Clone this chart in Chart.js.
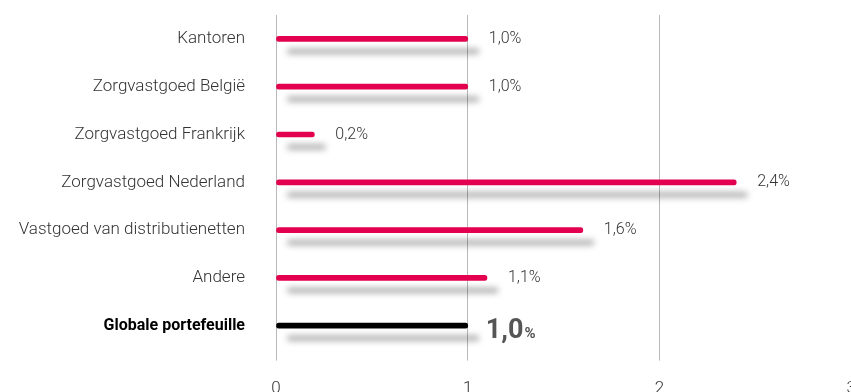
<!DOCTYPE html>
<html>
<head>
<meta charset="utf-8">
<script src="https://cdn.jsdelivr.net/npm/chart.js@4/dist/chart.umd.min.js"></script>
<style>
  html, body { margin: 0; padding: 0; background: #fff; overflow: hidden; }
  canvas { display: block; }
</style>
</head>
<body>
<canvas id="rendementChart" width="874" height="417"></canvas>
<script>
const categories = [
    'Kantoren',
    'Zorgvastgoed België',
    'Zorgvastgoed Frankrijk',
    'Zorgvastgoed Nederland',
    'Vastgoed van distributienetten',
    'Andere',
    'Globale portefeuille'
];
const rendement = [1.0, 1.0, 0.2, 2.4, 1.6, 1.1, 1.0];
const xTicks = [0, 1, 2, 3];

const RED = '#e2004f';
const TOTAL = categories.length - 1;

function fmt(v){
    return v.toFixed(1).replace('.', ',');
}

// soft grey shadow under every bar
const barShadow = {
    id: 'barShadow',
    beforeDatasetsDraw(chart){
        const ctx = chart.ctx;
        const meta = chart.getDatasetMeta(0);
        ctx.save();
        ctx.filter = 'blur(3px)';
        ctx.fillStyle = 'rgba(0,0,0,0.35)';
        meta.data.forEach(bar => {
            const left = bar.base + 11;
            const right = bar.x + 11;
            ctx.fillRect(left, bar.y + 10, right - left, 5);
        });
        ctx.restore();
    }
};

// value next to each bar
const valueLabels = {
    id: 'valueLabels',
    afterDatasetsDraw(chart){
        const ctx = chart.ctx;
        const meta = chart.getDatasetMeta(0);
        ctx.save();
        ctx.textAlign = 'left';
        meta.data.forEach((bar, i) => {
            const txt = fmt(rendement[i]);
            if(i == TOTAL){
                ctx.fillStyle = '#555';
                ctx.font = 'bold 27px Roboto';
                ctx.textBaseline = 'alphabetic';
                const x = bar.x + 18;
                const y = bar.y + 12;
                ctx.fillText(txt, x, y);
                const w = ctx.measureText(txt).width;
                ctx.font = 'bold 15px Roboto';
                ctx.fillText('%', x + w + 1, y);
            } else {
                ctx.fillStyle = '#333';
                ctx.font = '300 16px Roboto';
                ctx.textBaseline = 'middle';
                ctx.fillText(txt + '%', bar.x + 21, bar.y);
            }
        });
        ctx.restore();
    }
};

const ctx = document.getElementById('rendementChart').getContext('2d');
const myChart = new Chart(ctx, {
    type: 'bar',
    data: {
        labels: categories,
        datasets: [{
            data: rendement,
            backgroundColor: categories.map((c, i) => i == TOTAL ? '#000' : RED),
            barThickness: 5,
            borderRadius: 3,
            borderSkipped: false
        }]
    },
    options: {
        indexAxis: 'y',
        responsive: false,
        animation: false,
        layout: { padding: { top: 15, left: 0, right: 0, bottom: 0 } },
        plugins: {
            legend: { display: false },
            tooltip: { enabled: false }
        },
        scales: {
            x: {
                min: 0,
                max: 3,
                afterBuildTicks: scale => { scale.ticks = xTicks.map(v => ({ value: v })); },
                grid: { color: '#b8b8b8', lineWidth: 1, drawTicks: true, tickLength: 11 },
                border: { display: false },
                ticks: {
                    padding: 18,
                    color: '#333',
                    font: { family: 'Roboto', size: 17, weight: '300' }
                }
            },
            y: {
                afterFit: scale => { scale.width = 276; },
                // invisible tick marks keep the labels 31px off the plot
                grid: { display: false, drawTicks: true, tickLength: 31 },
                border: { display: false },
                ticks: {
                    padding: 0,
                    color: c => c.index == TOTAL ? '#000' : '#333',
                    font: c => c.index == TOTAL
                        ? { family: 'Roboto', size: 16, weight: 'bold' }
                        : { family: 'Roboto', size: 17, weight: '300' }
                }
            }
        }
    },
    plugins: [barShadow, valueLabels]
});
</script>
</body>
</html>
